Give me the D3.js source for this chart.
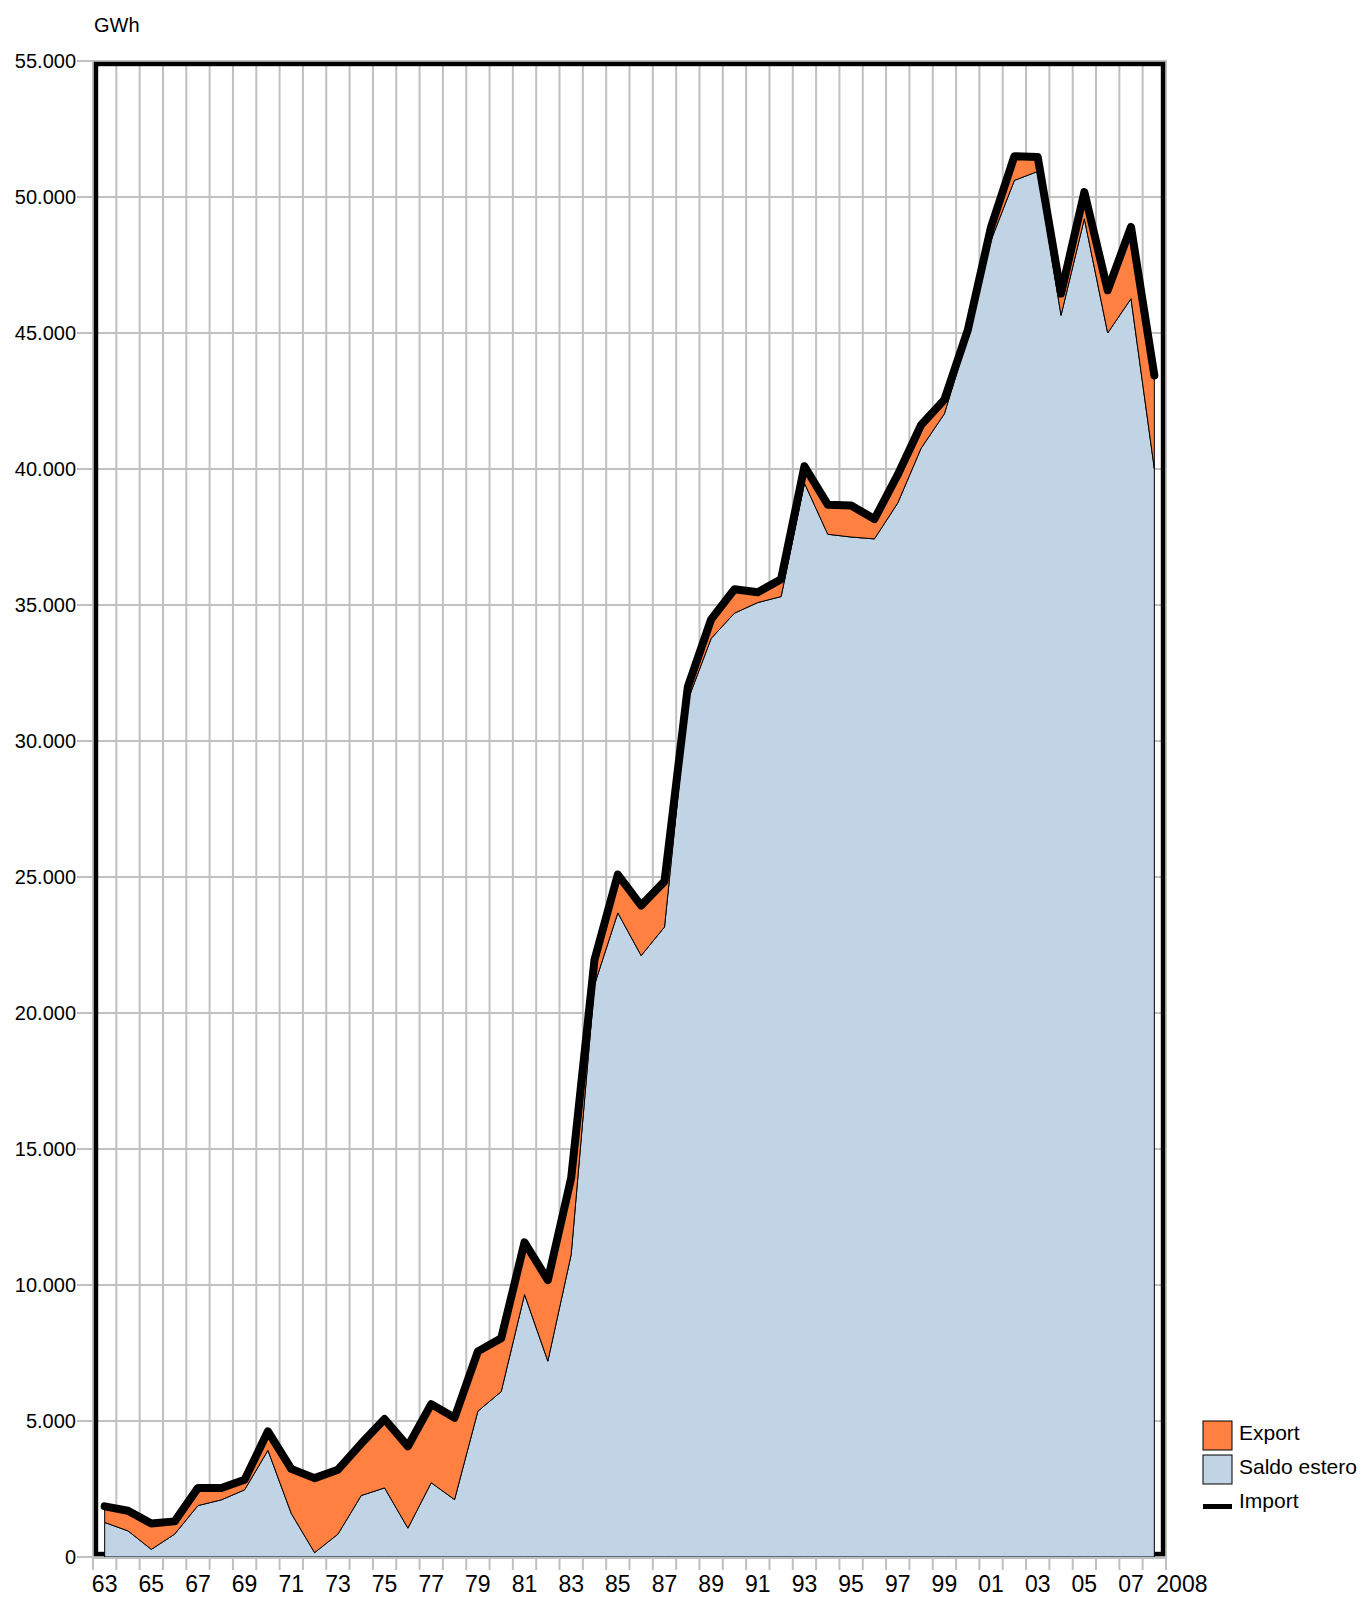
<!DOCTYPE html>
<html><head><meta charset="utf-8">
<script src="https://cdn.jsdelivr.net/npm/d3@7"></script>
<style>
body{margin:0;background:#fff}
svg{display:block}
text{font-family:"Liberation Sans",Arial,sans-serif;fill:#000}
</style>
</head><body>
<svg id="c" width="1361" height="1598"></svg>
<script>
// ---- DATA ----
const years = [1963,1964,1965,1966,1967,1968,1969,1970,1971,1972,1973,1974,1975,1976,1977,1978,1979,1980,
  1981,1982,1983,1984,1985,1986,1987,1988,1989,1990,1991,1992,1993,1994,1995,1996,1997,1998,1999,2000,
  2001,2002,2003,2004,2005,2006,2007,2008];
const importValues = [1860,1700,1230,1310,2540,2540,2840,4620,3240,2900,3210,4170,5070,4070,5620,5120,7560,8040,
  11570,10180,13940,21960,25090,23950,24840,31990,34470,35580,35470,35950,40100,38690,38660,38160,39790,41620,42550,45100,
  48900,51500,51470,46450,50180,46570,48900,43440];
const saldoValues = [1270,960,280,840,1890,2100,2470,3920,1600,160,840,2260,2540,1060,2730,2110,5360,6080,
  9650,7200,11120,21040,23680,22110,23160,31500,33770,34700,35090,35310,39480,37600,37500,37430,38750,40760,42030,44850,
  48410,50610,50940,45650,49200,45000,46260,40010];
const xTickLabels = ["63","","65","","67","","69","","71","","73","","75","","77","","79","",
  "81","","83","","85","","87","","89","","91","","93","","95","","97","","99","",
  "01","","03","","05","","07","2008"];
const yTickValues = [0,5000,10000,15000,20000,25000,30000,35000,40000,45000,50000,55000];
const seriesNames = ["Export","Saldo estero","Import"];
const unitLabel = "GWh";

// ---- CHART ----
const svg = d3.select("#c");
const L = 93, R = 1166, T = 61, B = 1557;
const x = d3.scaleBand().domain(years).range([L, R]).padding(0);
const y = d3.scaleLinear().domain([0, 55000]).range([B, T]);
const cx = d => x(d) + x.bandwidth() / 2;
const grid = "#c0c0c0";
const fmt = d3.formatLocale({decimal: ",", thousands: ".", grouping: [3], currency: ["", "€"]}).format(",d");

// horizontal gridlines + y ticks
svg.append("g").selectAll("line").data(yTickValues).join("line")
  .attr("x1", 77).attr("x2", R + 1)
  .attr("y1", d => y(d)).attr("y2", d => y(d))
  .attr("stroke", grid).attr("stroke-width", 2);

// vertical gridlines at band boundaries + x ticks
const bounds = years.map(d => x(d)).concat([x(years[years.length - 1]) + x.bandwidth()]);
svg.append("g").selectAll("line").data(bounds).join("line")
  .attr("x1", d => d).attr("x2", d => d)
  .attr("y1", T - 1).attr("y2", B + 13)
  .attr("stroke", grid).attr("stroke-width", 2);

// black frame
svg.append("rect")
  .attr("x", L + 3).attr("y", T + 3)
  .attr("width", (R - 3) - (L + 3)).attr("height", (B - 3) - (T + 3))
  .attr("fill", "none").attr("stroke", "#000").attr("stroke-width", 4.4);

// stacked areas
const table = years.map((yr, i) => ({year: yr, saldo: saldoValues[i], export: importValues[i] - saldoValues[i]}));
const stack = d3.stack().keys(["saldo", "export"])(table);
const area = d3.area().x(d => cx(d.data.year)).y0(d => y(d[0])).y1(d => y(d[1]));
const colors = {saldo: "#c0d4e5", export: "#ff8040"};
svg.append("g").selectAll("path").data(stack).join("path")
  .attr("d", area)
  .attr("fill", s => colors[s.key])
  .attr("stroke", "#000").attr("stroke-width", 1).attr("stroke-linejoin", "miter");

// bottom axis line
svg.append("line").attr("x1", L).attr("x2", R + 1).attr("y1", B + 1).attr("y2", B + 1)
  .attr("stroke", grid).attr("stroke-width", 2);

// import line
const line = d3.line().x((d, i) => cx(years[i])).y(d => y(d));
svg.append("path").attr("d", line(importValues))
  .attr("fill", "none").attr("stroke", "#000").attr("stroke-width", 8)
  .attr("stroke-linejoin", "round").attr("stroke-linecap", "round");

// y labels
svg.append("g").selectAll("text").data(yTickValues).join("text")
  .attr("x", 76).attr("y", d => y(d) + 7)
  .attr("text-anchor", "end").attr("font-size", 20)
  .text(d => fmt(d));

// x labels
svg.append("g").selectAll("text").data(years.map((yr, i) => ({yr, lab: xTickLabels[i]})).filter(d => d.lab))
  .join("text")
  .attr("x", d => d.lab.length > 2 ? cx(d.yr) + 2 : cx(d.yr))
  .attr("y", 1592)
  .attr("text-anchor", d => d.lab.length > 2 ? "start" : "middle")
  .attr("font-size", 23)
  .text(d => d.lab);

// unit label
svg.append("text").attr("x", 94).attr("y", 31.5).attr("font-size", 20).text(unitLabel);

// legend
const lg = svg.append("g");
lg.append("rect").attr("x", 1203).attr("y", 1421).attr("width", 29).attr("height", 29)
  .attr("fill", colors.export).attr("stroke", "#000").attr("stroke-width", 1);
lg.append("rect").attr("x", 1203).attr("y", 1455).attr("width", 29).attr("height", 29)
  .attr("fill", colors.saldo).attr("stroke", "#000").attr("stroke-width", 1);
lg.append("rect").attr("x", 1203).attr("y", 1504).attr("width", 29).attr("height", 5).attr("fill", "#000");
lg.selectAll("text").data(seriesNames).join("text")
  .attr("x", 1239).attr("y", (d, i) => [1440, 1474, 1508][i])
  .attr("font-size", 21).text(d => d);
</script>
</body></html>
